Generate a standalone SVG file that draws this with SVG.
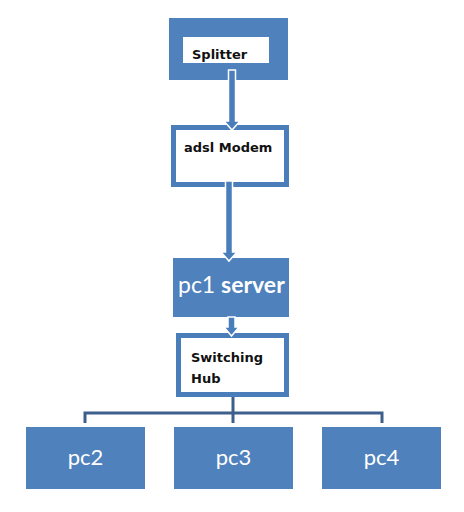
<svg xmlns="http://www.w3.org/2000/svg" width="464" height="512" viewBox="0 0 464 512">
<style>
.blk{fill:#4f81bd}
.frame{fill:#ffffff;stroke:#4a7ebb;stroke-width:5}
.lbl{font-family:"DejaVu Sans","Liberation Sans",sans-serif;font-weight:bold;font-size:13px;fill:#111111}
.wl{font-family:Lato,"Open Sans",sans-serif;fill:#ffffff;font-size:22px}
.arrow{fill:#4a7ebb;stroke:#ffffff;stroke-width:1.5;stroke-linejoin:miter}
.tree{fill:none;stroke:#3d5f8c;stroke-width:3}
</style>
<rect width="464" height="512" fill="#ffffff"/>
<g id="splitter">
<rect class="blk" x="169" y="18" width="119" height="62"/>
<rect x="183" y="37" width="86" height="26" fill="#ffffff"/>
<text class="lbl" x="192" y="59">Splitter</text>
</g>
<g id="modem">
<rect class="frame" x="173.5" y="127.5" width="113" height="57"/>
<text class="lbl" x="184" y="152">adsl Modem</text>
</g>
<g id="pc1">
<rect class="blk" x="173" y="258" width="116" height="59"/>
<text class="wl" x="178" y="293" style="font-size:23px">pc1 <tspan font-weight="bold">server</tspan></text>
</g>
<g id="hub">
<rect class="frame" x="178.5" y="335.5" width="108" height="59"/>
<text class="lbl" x="191" y="362">Switching</text>
<text class="lbl" x="191" y="383">Hub</text>
</g>
<g id="pc2">
<rect class="blk" x="26" y="427" width="119" height="62"/>
<text class="wl" x="85.5" y="465" text-anchor="middle">pc2</text>
</g>
<g id="pc3">
<rect class="blk" x="174" y="427" width="119" height="62"/>
<text class="wl" x="233.5" y="465" text-anchor="middle">pc3</text>
</g>
<g id="pc4">
<rect class="blk" x="322" y="427" width="119" height="62"/>
<text class="wl" x="381.5" y="465" text-anchor="middle">pc4</text>
</g>
<g id="connectors">
<polygon class="arrow" points="228.5,70 235.5,70 235.5,121 240,121 232,130 224,121 228.5,121"/>
<polygon class="arrow" points="225.5,181 232.5,181 232.5,252 237,252 229,261 221,252 225.5,252"/>
<polygon class="arrow" points="228,317 235,317 235,327 239,327 231.5,336 224,327 228,327"/>
<path class="tree" d="M233,397 V423 M85,423 V413 H382 V423"/>
</g>
</svg>
